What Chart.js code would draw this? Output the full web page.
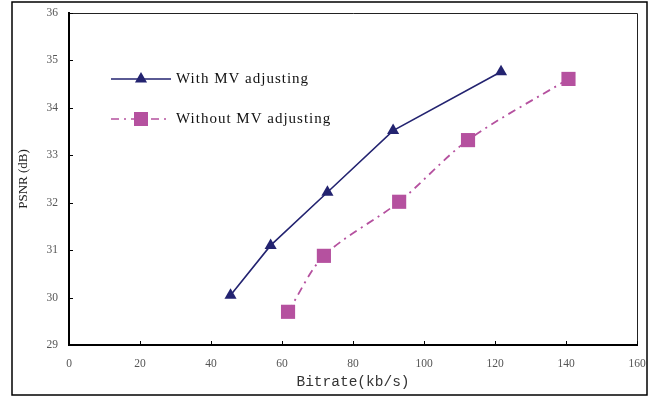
<!DOCTYPE html>
<html>
<head>
<meta charset="utf-8">
<script src="https://cdn.jsdelivr.net/npm/chart.js@4"></script>
<style>
  html, body { margin: 0; padding: 0; background: #fff; }
  #wrap { width: 662px; height: 396px; position: relative; }
</style>
</head>
<body>
<div id="wrap"><canvas id="myChart" width="662" height="396"></canvas></div>
<script>
// --- data ---
var withMvX = [45.5, 56.8, 72.8, 91.3, 121.7];
var withMvY = [30.05, 31.1, 32.22, 33.52, 34.76];
var withoutMvX = [61.7, 71.8, 93.0, 112.4, 140.7];
var withoutMvY = [29.7, 30.88, 32.02, 33.32, 34.61];
var xTicks = [0, 20, 40, 60, 80, 100, 120, 140, 160];
var yTicks = [29, 30, 31, 32, 33, 34, 35, 36];

var navy = '#232370';
var magenta = '#b5519f';

function toPoints(xs, ys) {
	var pts = [];
	for (var i = 0; i < xs.length; i++) {
		pts.push({ x: xs[i], y: ys[i] });
	}
	return pts;
}

// frame, inward ticks and the legend inside the plot
var decor = {
	id: 'decor',
	afterDraw: function(chart) {
		var ctx = chart.ctx;
		var a = chart.chartArea;
		var xs = chart.scales.x, ys = chart.scales.y;
		ctx.save();
		// outer frame
		ctx.strokeStyle = '#000';
		ctx.lineWidth = 1.5;
		ctx.strokeRect(12, 2, 635, 393);
		// top / right plot border
		ctx.strokeStyle = '#222';
		ctx.lineWidth = 1;
		ctx.beginPath();
		ctx.moveTo(a.left, a.top + 0.5);
		ctx.lineTo(a.right + 0.5, a.top + 0.5);
		ctx.lineTo(a.right + 0.5, a.bottom);
		ctx.stroke();
		// inward ticks
		ctx.strokeStyle = '#000';
		ctx.lineWidth = 1;
		ctx.beginPath();
		xTicks.forEach(function(v) {
			var px = Math.round(xs.getPixelForValue(v)) + 0.5;
			ctx.moveTo(px, a.bottom);
			ctx.lineTo(px, a.bottom - 4);
		});
		yTicks.forEach(function(v) {
			var py = Math.round(ys.getPixelForValue(v)) + 0.5;
			ctx.moveTo(a.left, py);
			ctx.lineTo(a.left + 4, py);
		});
		ctx.stroke();
		// legend
		var rows = [79, 119];
		chart.data.datasets.forEach(function(ds, i) {
			var y = rows[i];
			ctx.strokeStyle = ds.borderColor;
			ctx.lineWidth = 1.6;
			ctx.setLineDash(ds.borderDash || []);
			ctx.beginPath();
			ctx.moveTo(111, y);
			ctx.lineTo(171, y);
			ctx.stroke();
			ctx.setLineDash([]);
			ctx.fillStyle = ds.pointBackgroundColor;
			if (ds.pointStyle == 'triangle') {
				var r = 7;
				ctx.beginPath();
				ctx.moveTo(141, y - r);
				ctx.lineTo(141 + r * 0.866, y + r / 2);
				ctx.lineTo(141 - r * 0.866, y + r / 2);
				ctx.closePath();
				ctx.fill();
			} else {
				ctx.fillRect(134, y - 7, 14, 14);
			}
			ctx.fillStyle = '#111';
			ctx.font = '15px "Liberation Serif"';
			ctx.letterSpacing = '1px';
			ctx.textBaseline = 'middle';
			ctx.textAlign = 'left';
			ctx.fillText(ds.label, 176, y);
		});
		ctx.restore();
	}
};

var data = {
	datasets: [{
		label: 'With MV adjusting',
		data: toPoints(withMvX, withMvY),
		showLine: true,
		borderColor: navy,
		borderWidth: 1.6,
		pointStyle: 'triangle',
		pointRadius: 7,
		pointBackgroundColor: navy,
		pointBorderColor: navy,
		pointBorderWidth: 0
	}, {
		label: 'Without MV adjusting',
		data: toPoints(withoutMvX, withoutMvY),
		showLine: true,
		borderColor: magenta,
		borderWidth: 1.8,
		borderDash: [8, 5, 2, 5],
		tension: 0.3,
		pointStyle: 'rect',
		pointRadius: 10,
		pointBackgroundColor: magenta,
		pointBorderColor: magenta,
		pointBorderWidth: 0
	}]
};

var config = {
	type: 'scatter',
	data: data,
	options: {
		responsive: false,
		animation: false,
		layout: { padding: { left: 0, right: 25, top: 13, bottom: 0 } },
		plugins: {
			legend: { display: false },
			tooltip: { enabled: false }
		},
		scales: {
			x: {
				type: 'linear',
				min: 0,
				max: 160,
				afterBuildTicks: function(s) { s.ticks = xTicks.map(function(v) { return { value: v }; }); },
				afterFit: function(s) { s.height = 51; s.paddingLeft = 0; s.paddingRight = 0; },
				grid: { drawOnChartArea: false, drawTicks: false },
				border: { display: true, color: '#000', width: 2 },
				ticks: {
					padding: 12,
					color: '#555',
					font: { family: 'Liberation Serif', size: 11.5 },
					maxRotation: 0
				},
				title: {
					display: true,
					text: 'Bitrate(kb/s)',
					color: '#333',
					font: { family: 'Liberation Mono', size: 14.5 },
					padding: { top: 0, bottom: 5 }
				}
			},
			y: {
				type: 'linear',
				min: 29,
				max: 36,
				afterBuildTicks: function(s) { s.ticks = yTicks.map(function(v) { return { value: v }; }); },
				afterFit: function(s) { s.width = 69; s.paddingTop = 0; s.paddingBottom = 0; },
				grid: { drawOnChartArea: false, drawTicks: false },
				border: { display: true, color: '#000', width: 2 },
				ticks: {
					padding: 11,
					color: '#555',
					font: { family: 'Liberation Serif', size: 11.5 }
				},
				title: {
					display: true,
					text: 'PSNR (dB)',
					color: '#222',
					font: { family: 'Liberation Serif', size: 13 },
					padding: { top: 16, bottom: 0 }
				}
			}
		}
	},
	plugins: [decor]
};

var myChart = new Chart(document.getElementById('myChart'), config);
</script>
</body>
</html>
